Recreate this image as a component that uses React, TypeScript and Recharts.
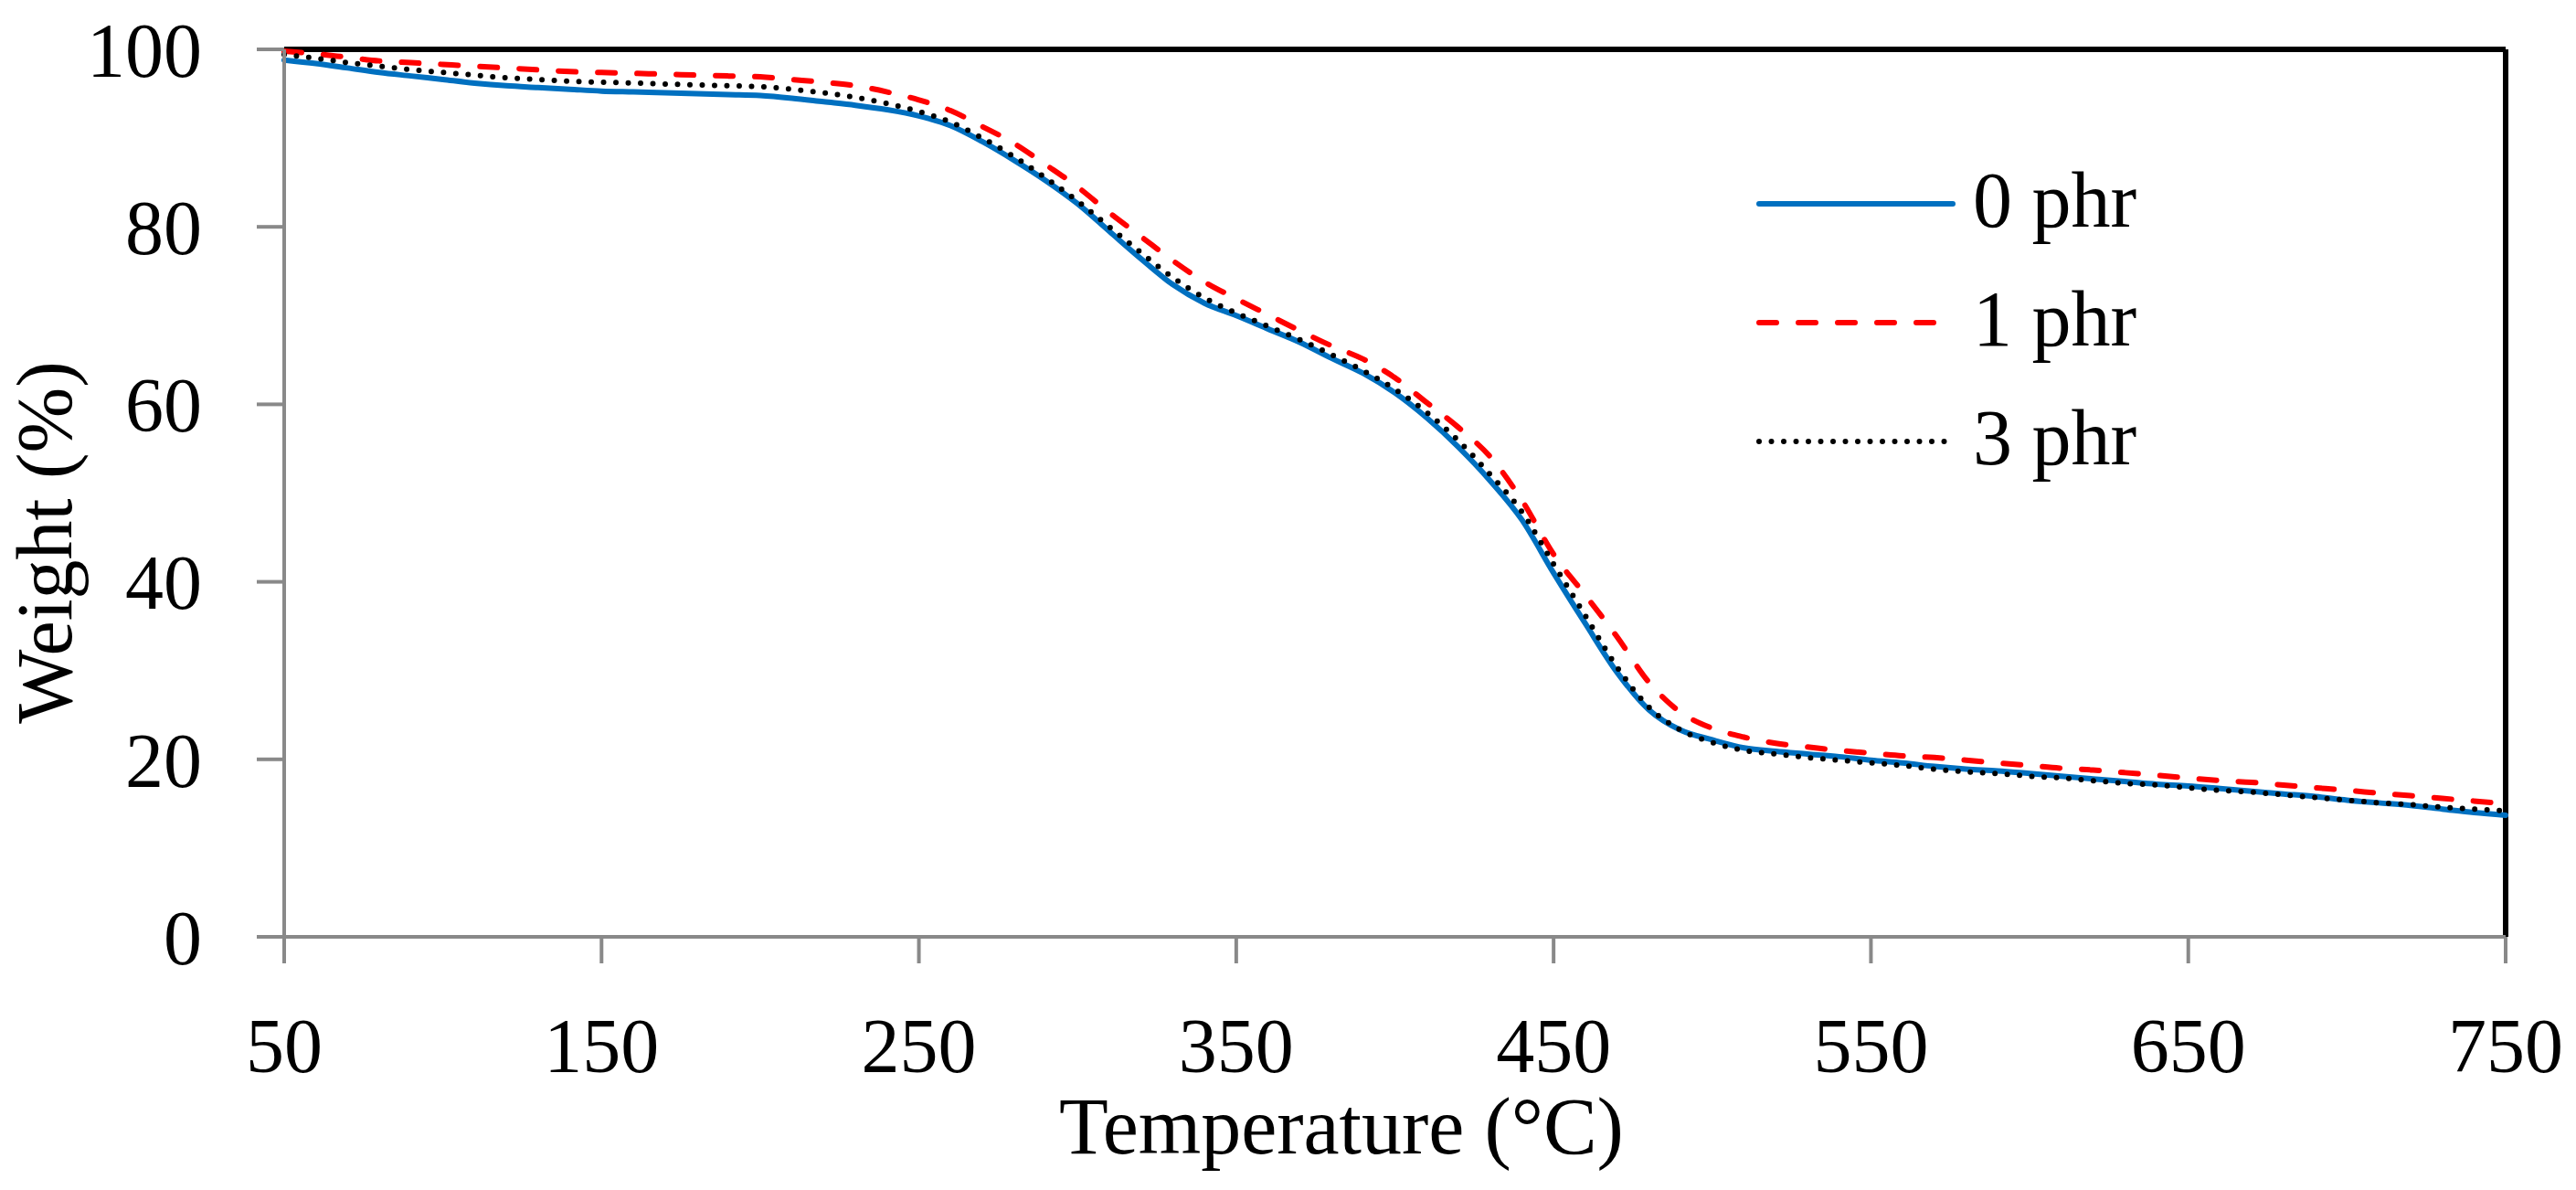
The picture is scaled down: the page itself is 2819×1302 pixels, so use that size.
import React from "react";
import { LineChart, Line, XAxis, YAxis, ReferenceLine, Label } from "recharts";

const temps = [
  50, 60, 70, 80, 90, 100, 110, 120, 130, 140, 150, 160, 170, 180, 190, 200, 210, 220, 230, 240,
  250, 260, 270, 280, 290, 300, 310, 320, 330, 340, 350, 360, 370, 380, 390, 400, 410, 420, 430,
  440, 450, 460, 470, 480, 490, 500, 510, 520, 530, 540, 550, 560, 570, 580, 590, 600, 610, 620,
  630, 640, 650, 660, 670, 680, 690, 700, 710, 720, 730, 740, 750,
];

// 0 phr
const phr0 = [
  98.8, 98.4, 97.9, 97.4, 97.0, 96.6, 96.2, 95.9, 95.7, 95.5, 95.3, 95.2, 95.1, 95.0, 94.9, 94.8,
  94.5, 94.1, 93.7, 93.2, 92.5, 91.4, 89.6, 87.5, 85.2, 82.6, 79.5, 76.4, 73.5, 71.4, 70.0, 68.5,
  67.0, 65.2, 63.5, 61.3, 58.5, 55.2, 51.4, 47.0, 41.0, 35.3, 29.8, 25.6, 23.3, 22.2, 21.3, 20.9,
  20.6, 20.3, 19.9, 19.6, 19.2, 18.9, 18.7, 18.4, 18.1, 17.8, 17.5, 17.2, 17.0, 16.7, 16.4, 16.1,
  15.8, 15.4, 15.1, 14.8, 14.4, 14.0, 13.7,
];

// 1 phr
const phr1 = [
  99.8, 99.5, 99.1, 98.7, 98.5, 98.3, 98.1, 97.9, 97.7, 97.5, 97.4, 97.3, 97.2, 97.1, 97.0, 96.9,
  96.6, 96.3, 95.9, 95.2, 94.3, 93.1, 91.3, 89.4, 87.0, 84.5, 81.6, 78.9, 76.2, 73.8, 71.9, 70.1,
  68.3, 66.6, 65.1, 63.0, 60.2, 57.4, 54.1, 49.2, 43.1, 38.5, 33.8, 28.7, 25.3, 23.5, 22.5, 21.8,
  21.4, 21.0, 20.7, 20.4, 20.2, 19.9, 19.6, 19.3, 19.0, 18.8, 18.5, 18.2, 17.9, 17.6, 17.4, 17.1,
  16.8, 16.5, 16.2, 15.9, 15.6, 15.3, 15.0,
];

// 3 phr
const phr3 = [
  99.4, 99.0, 98.5, 98.1, 97.7, 97.4, 97.1, 96.8, 96.6, 96.4, 96.3, 96.2, 96.1, 96.0, 95.9, 95.8,
  95.5, 95.1, 94.6, 93.9, 93.0, 91.8, 90.0, 87.9, 85.5, 82.9, 80.0, 77.1, 74.3, 72.0, 70.3, 68.8,
  67.3, 65.6, 63.8, 61.7, 59.1, 55.9, 52.1, 47.9, 42.0, 36.2, 30.4, 25.9, 23.3, 21.9, 21.0, 20.6,
  20.2, 19.9, 19.6, 19.3, 18.9, 18.6, 18.4, 18.1, 17.9, 17.6, 17.3, 17.1, 16.8, 16.5, 16.3, 16.0,
  15.7, 15.4, 15.1, 14.9, 14.6, 14.4, 14.2,
];

const xTicks = [50, 150, 250, 350, 450, 550, 650, 750];
const yTicks = [0, 20, 40, 60, 80, 100];

const series = [
  { key: "phr0", name: "0 phr", color: "#0070C0", dash: undefined },
  { key: "phr1", name: "1 phr", color: "#FF0000", dash: "19 24" },
  { key: "phr3", name: "3 phr", color: "#000000", dash: "0 13.5" },
];

const data = temps.map((t, i) => ({ t, phr0: phr0[i], phr1: phr1[i], phr3: phr3[i] }));

const FONT = "'Palatino Linotype', 'Book Antiqua', 'Liberation Serif', 'Times New Roman', serif";
const AXIS_GRAY = "#898989";

// legend drawn as an overlay so it doesn't steal height from the plot
function LegendBox() {
  return (
    <svg width={600} height={420} style={{ position: "absolute", left: 1897, top: 150 }}>
      {series.map((s, i) => {
        const y = 73 + i * 130;
        return (
          <g key={s.key}>
            <line
              x1={28}
              x2={240}
              y1={y}
              y2={y}
              stroke={s.color}
              strokeWidth={6}
              strokeDasharray={s.dash}
              strokeLinecap="round"
            />
            <text x={262} y={y + 25} fontSize={86} fontFamily={FONT} fill="#000">
              {s.name}
            </text>
          </g>
        );
      })}
    </svg>
  );
}

export default function App() {
  return (
    <div style={{ position: "relative", width: 2819, height: 1302, background: "#fff" }}>
      <style>{`body{margin:0}`}</style>
      <LineChart
        width={2819}
        height={1302}
        data={data}
        margin={{ top: 54, right: 77, left: 0, bottom: 0 }}
      >
        <XAxis
          dataKey="t"
          type="number"
          domain={[50, 750]}
          ticks={xTicks}
          height={277}
          stroke={AXIS_GRAY}
          strokeWidth={4}
          tickSize={29}
          tickMargin={59}
          tick={{ fill: "#000", fontSize: 84, fontFamily: FONT }}
        >
          <Label
            content={({ viewBox }: any) => (
              <text
                x={viewBox.x + 1157}
                y={viewBox.y + 237}
                textAnchor="middle"
                fontSize={88}
                fontFamily={FONT}
                fill="#000"
              >
                Temperature (°C)
              </text>
            )}
          />
        </XAxis>
        <YAxis
          type="number"
          domain={[0, 100]}
          ticks={yTicks}
          width={311}
          stroke={AXIS_GRAY}
          strokeWidth={4}
          tickSize={30}
          tickMargin={60}
          tick={{ fill: "#000", fontSize: 84, fontFamily: FONT }}
        >
          <Label
            content={({ viewBox }: any) => {
              const x = viewBox.x + 78;
              const y = viewBox.y + viewBox.height / 2 + 54;
              return (
                <text
                  x={x}
                  y={y}
                  transform={`rotate(-90 ${x} ${y})`}
                  textAnchor="middle"
                  fontSize={86}
                  fontFamily={FONT}
                  fill="#000"
                >
                  Weight (%)
                </text>
              );
            }}
          />
        </YAxis>
        <ReferenceLine y={100} stroke="#000" strokeWidth={6} />
        <ReferenceLine x={750} stroke="#000" strokeWidth={6} />
        {series.map((s) => (
          <Line
            key={s.key}
            type="monotone"
            dataKey={s.key}
            name={s.name}
            stroke={s.color}
            strokeWidth={6}
            strokeDasharray={s.dash}
            strokeLinecap="round"
            dot={false}
            activeDot={false}
            isAnimationActive={false}
          />
        ))}
      </LineChart>
      <LegendBox />
    </div>
  );
}
